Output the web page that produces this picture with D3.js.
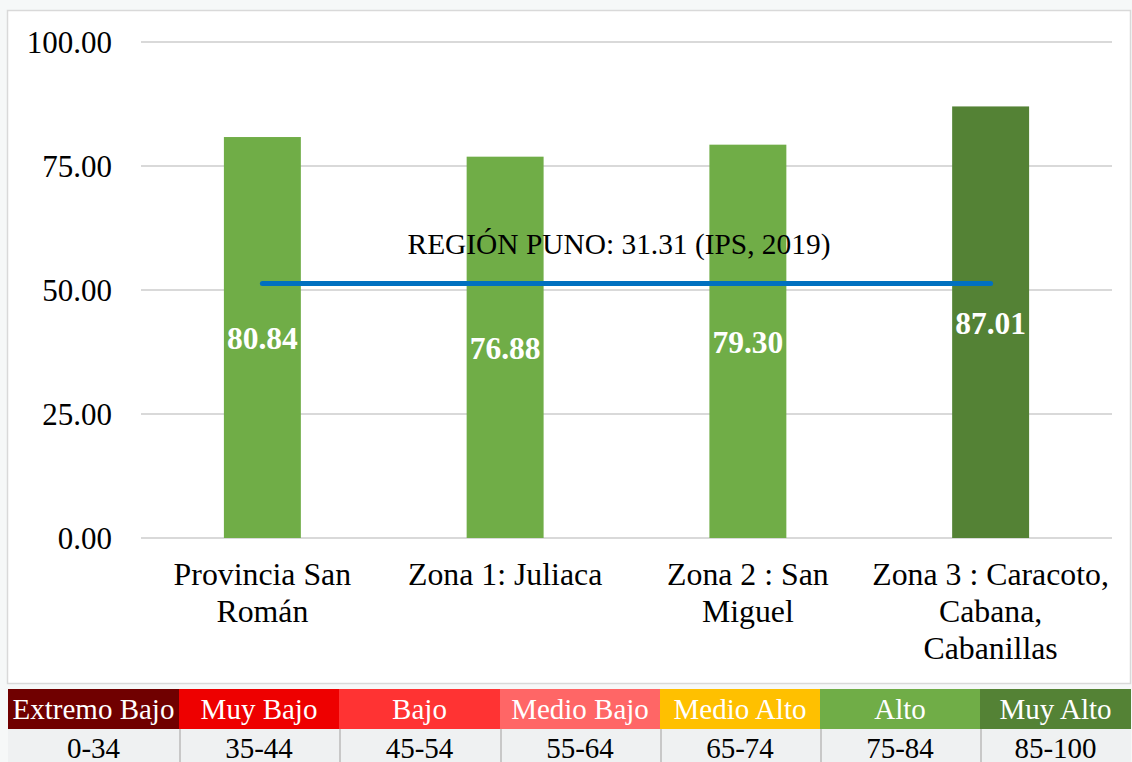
<!DOCTYPE html>
<html>
<head>
<meta charset="utf-8">
<script src="https://cdn.jsdelivr.net/npm/d3@7/dist/d3.min.js"></script>
<style>
  html, body { margin: 0; padding: 0; background: #f6f8f8; }
  svg { display: block; }
</style>
</head>
<body>
<svg id="chart" width="1132" height="762"></svg>
<script>
// ---- data ----
const categories = [
  ["Provincia San", "Román"],
  ["Zona 1: Juliaca"],
  ["Zona 2 : San", "Miguel"],
  ["Zona 3 : Caracoto,", "Cabana,", "Cabanillas"]
];
const values = [80.84, 76.88, 79.30, 87.01];
const barColors = ["#70ad47", "#70ad47", "#70ad47", "#548235"];
const yTicks = [0, 25, 50, 75, 100];
const referenceLabel = "REGIÓN PUNO: 31.31 (IPS, 2019)";
const referenceLineLevel = 51.3; // drawn position of the reference line in the original
const legendLabels = ["Extremo Bajo", "Muy Bajo", "Bajo", "Medio Bajo", "Medio Alto", "Alto", "Muy Alto"];
const legendRanges = ["0-34", "35-44", "45-54", "55-64", "65-74", "75-84", "85-100"];
const legendColors = ["#700000", "#ee0000", "#ff3333", "#ff6666", "#ffc000", "#70ad47", "#548235"];
const legendEdges = [8, 179, 339, 500, 660, 820, 980, 1131];

// ---- layout ----
const svg = d3.select("#chart");
const font = "'Liberation Serif', 'Times New Roman', serif";

// chart frame
svg.append("rect")
  .attr("x", 7.5).attr("y", 10.5).attr("width", 1123).attr("height", 673)
  .attr("fill", "#ffffff").attr("stroke", "#d9d9d9").attr("stroke-width", 1.5);

const x = d3.scaleBand().domain(d3.range(values.length)).range([141, 1112]).paddingInner(0.683).paddingOuter(0.3415);
const y = d3.scaleLinear().domain([0, 100]).range([538, 42]);

// gridlines
svg.append("g").selectAll("line").data(yTicks).join("line")
  .attr("x1", 141).attr("x2", 1112)
  .attr("y1", d => y(d)).attr("y2", d => y(d))
  .attr("stroke", "#d9d9d9").attr("stroke-width", 2);

// y axis labels
const yAxis = d3.axisLeft(y).tickValues(yTicks).tickFormat(d3.format(".2f")).tickSize(0).tickPadding(0);
const yg = svg.append("g").attr("transform", "translate(112,0)").call(yAxis);
yg.select(".domain").remove();
yg.selectAll("text")
  .attr("font-family", font).attr("font-size", 31).attr("fill", "#000").attr("dy", "0.35em");

// bars
svg.append("g").selectAll("rect").data(values).join("rect")
  .attr("x", (d, i) => x(i)).attr("width", x.bandwidth())
  .attr("y", d => y(d)).attr("height", d => y(0) - y(d))
  .attr("fill", (d, i) => barColors[i]);

// reference line
const cx = i => x(i) + x.bandwidth() / 2;
svg.append("line")
  .attr("x1", cx(0)).attr("x2", cx(values.length - 1))
  .attr("y1", y(referenceLineLevel)).attr("y2", y(referenceLineLevel))
  .attr("stroke", "#0070c0").attr("stroke-width", 5).attr("stroke-linecap", "round");

svg.append("text")
  .attr("x", 619).attr("y", y(referenceLineLevel) - 30)
  .attr("text-anchor", "middle")
  .attr("font-family", font).attr("font-size", 29.4).attr("fill", "#000")
  .text(referenceLabel);

// value labels
svg.append("g").selectAll("text").data(values).join("text")
  .attr("x", (d, i) => cx(i))
  .attr("y", d => (y(d) + y(0)) / 2)
  .attr("dy", "0.38em")
  .attr("text-anchor", "middle")
  .attr("font-family", font).attr("font-size", 31.5).attr("font-weight", "bold").attr("fill", "#ffffff")
  .text(d => d3.format(".2f")(d));

// category labels
const catG = svg.append("g").selectAll("text").data(categories).join("text")
  .attr("x", (d, i) => cx(i)).attr("y", 585)
  .attr("text-anchor", "middle")
  .attr("font-family", font).attr("font-size", 31.8).attr("fill", "#000");
catG.selectAll("tspan").data(d => d).join("tspan")
  .attr("x", function() { return d3.select(this.parentNode).attr("x"); })
  .attr("dy", (d, j) => j === 0 ? 0 : 37)
  .text(d => d);

// legend table
const lg = svg.append("g");
lg.selectAll("rect.top").data(legendLabels).join("rect")
  .attr("class", "top")
  .attr("x", (d, i) => legendEdges[i]).attr("y", 689)
  .attr("width", (d, i) => legendEdges[i + 1] - legendEdges[i]).attr("height", 40)
  .attr("fill", (d, i) => legendColors[i]);
lg.selectAll("rect.bot").data(legendRanges).join("rect")
  .attr("class", "bot")
  .attr("x", (d, i) => legendEdges[i]).attr("y", 729)
  .attr("width", (d, i) => legendEdges[i + 1] - legendEdges[i]).attr("height", 33)
  .attr("fill", "#eff1f2");
lg.selectAll("line.sep").data(legendEdges.slice(1, -1)).join("line")
  .attr("class", "sep")
  .attr("x1", d => d + 1).attr("x2", d => d + 1)
  .attr("y1", 729).attr("y2", 762)
  .attr("stroke", "#c8c8c8").attr("stroke-width", 2);
lg.selectAll("text.top").data(legendLabels).join("text")
  .attr("class", "top")
  .attr("x", (d, i) => (legendEdges[i] + legendEdges[i + 1]) / 2).attr("y", 719)
  .attr("text-anchor", "middle")
  .attr("font-family", font).attr("font-size", 29).attr("fill", "#ffffff")
  .text(d => d);
lg.selectAll("text.bot").data(legendRanges).join("text")
  .attr("class", "bot")
  .attr("x", (d, i) => (legendEdges[i] + legendEdges[i + 1]) / 2).attr("y", 758)
  .attr("text-anchor", "middle")
  .attr("font-family", font).attr("font-size", 29).attr("fill", "#000")
  .text(d => d);
</script>
</body>
</html>
